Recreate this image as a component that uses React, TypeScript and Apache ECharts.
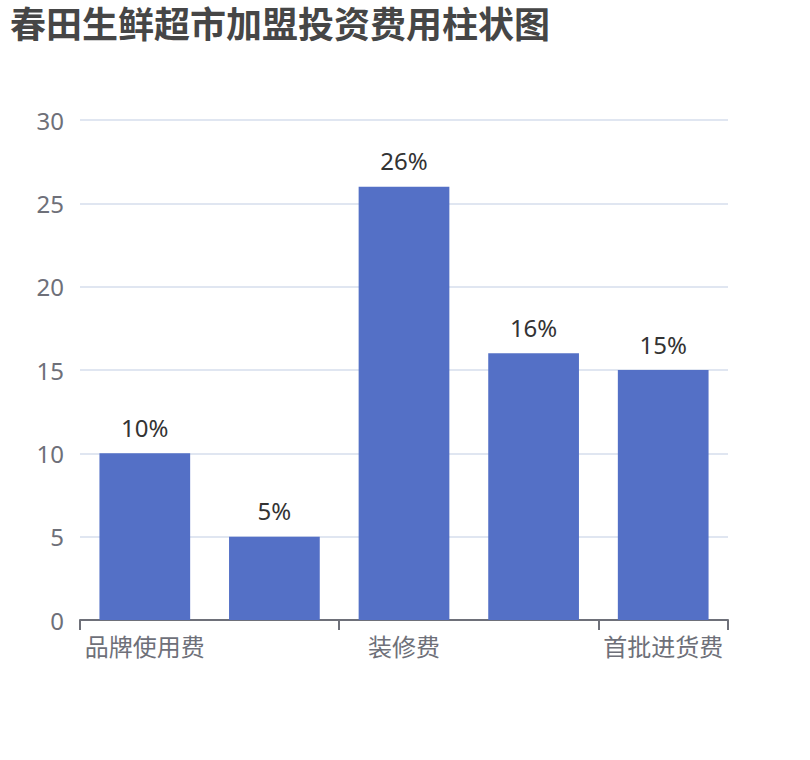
import * as echarts from 'echarts';
import { useEffect, useRef } from 'react';

const categories = ['品牌使用费', '保证金', '装修费', '设备费', '首批进货费'];
const values = [10, 5, 26, 16, 15];
const yTicks = { min: 0, max: 30, interval: 5 };

const font = '"Noto Sans", "Noto Sans CJK SC", sans-serif';

const App = () => {
  const chartRef = useRef<HTMLDivElement>(null);

  useEffect(() => {
    if (!chartRef.current) return;
    const chart = echarts.init(chartRef.current, undefined, { renderer: 'svg' });
    chart.setOption({
      animation: false,
      backgroundColor: '#fff',
      textStyle: { fontFamily: font },
      title: {
        text: '春田生鲜超市加盟投资费用柱状图',
        left: 0,
        top: 0,
        padding: [6, 10],
        textStyle: { fontSize: 36, fontWeight: 'bold', color: '#464646', fontFamily: font },
      },
      grid: { left: 80, right: 82, top: 120, bottom: 140 },
      xAxis: {
        type: 'category',
        data: categories,
        axisLine: { lineStyle: { color: '#6E7079', width: 2 } },
        axisTick: { show: true, interval: 1, length: 10, lineStyle: { color: '#6E7079', width: 2 } },
        axisLabel: { interval: 1, fontSize: 24, margin: 14, color: '#6E7079', fontFamily: font },
      },
      yAxis: {
        type: 'value',
        ...yTicks,
        axisLabel: {
          fontSize: 24,
          margin: 16,
          color: '#6E7079',
          fontFamily: font,
          padding: [0, 0, 6, 0],
        },
        splitLine: { lineStyle: { color: '#E0E6F1', width: 2 } },
      },
      series: [
        {
          type: 'bar',
          data: values,
          barWidth: '70%',
          itemStyle: { color: '#5470c6' },
          label: {
            show: true,
            position: 'top',
            distance: 14,
            fontSize: 24,
            color: '#333',
            fontFamily: font,
            formatter: '{c}%',
          },
        },
      ],
    });
    return () => chart.dispose();
  }, []);

  return (
    <div
      ref={chartRef}
      style={{ position: 'fixed', left: 0, top: 0, width: 810, height: 760 }}
    />
  );
};

export default App;
